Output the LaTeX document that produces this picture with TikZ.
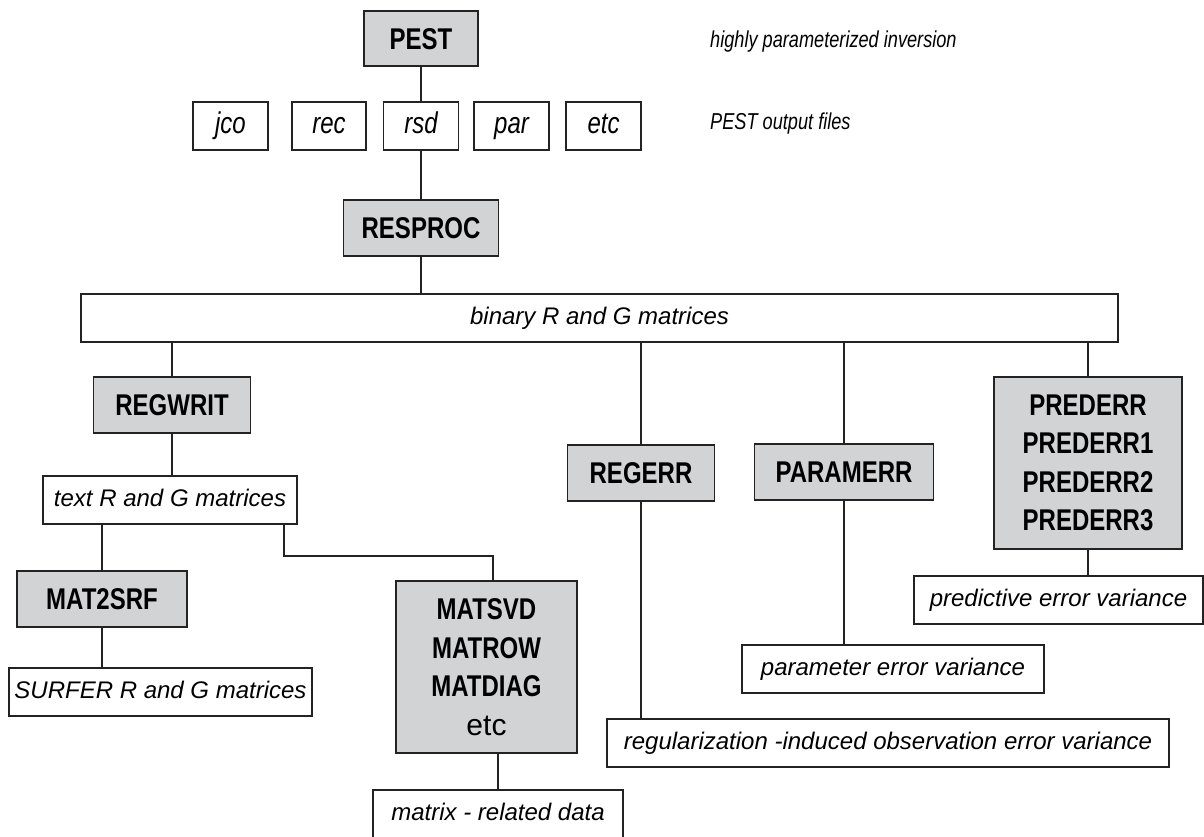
\documentclass[tikz,border=0pt]{standalone}
\usepackage{fontspec}
\setmainfont{Liberation Sans}
\newfontfamily\cnfont{Liberation Sans}[FakeStretch=0.8]
\newfontfamily\filefont{Liberation Sans}[FakeStretch=0.8]
\newfontfamily\notefont{Liberation Sans}[FakeStretch=0.79]
\definecolor{boxgray}{RGB}{210,211,213}
\definecolor{edgec}{RGB}{35,35,35}
\begin{document}
\begin{tikzpicture}[x=1pt,y=-1pt,
  base/.style={draw=edgec,line width=1.8pt,inner sep=0pt,align=center,anchor=center},
  gboxm/.style={base,fill=boxgray,font=\cnfont\bfseries\fontsize{30}{38.5}\selectfont},
  gbox/.style={gboxm,text height=21pt,text depth=0pt},
  wbox/.style={base,fill=white,font=\itshape\fontsize{24}{28}\selectfont,text height=17pt,text depth=5pt},
  fbox/.style={base,fill=white,font=\filefont\itshape\fontsize{30}{32}\selectfont,minimum width=75pt,minimum height=48pt,text height=21pt,text depth=6pt},
  note/.style={inner sep=0pt,anchor=west,font=\notefont\itshape\fontsize{23}{26}\selectfont,text height=16pt,text depth=5pt},
  conn/.style={draw=edgec,line width=1.8pt}]
\useasboundingbox (0,0) rectangle (1204,836);
% nodes
\node[gbox,minimum width=114pt,minimum height=55pt] (pest) at (421,38.5) {PEST};
\node[fbox] (jco) at (230.5,126) {jco};
\node[fbox,minimum width=74pt] (rec) at (329,126) {rec};
\node[fbox] (rsd) at (421,126) {rsd};
\node[fbox] (par) at (511.5,126) {par};
\node[fbox] (etcf) at (603.5,126) {etc};
\node[note] (n1) at (710,42) {highly parameterized inversion};
\node[note] (n2) at (710,124) {PEST output files};
\node[gbox,minimum width=155pt,minimum height=56pt] (resproc) at (421,228) {RESPROC};
\node[wbox,minimum width=1037pt,minimum height=48pt] (binary) at (599.5,318) {binary R and G matrices};
\node[gbox,minimum width=157pt,minimum height=56pt] (regwrit) at (172,405) {REGWRIT};
\node[wbox,minimum width=254pt,minimum height=48pt] (textR) at (170,500) {text R and G matrices};
\node[gbox,minimum width=170pt,minimum height=56pt] (mat2srf) at (102,599) {MAT2SRF};
\node[wbox,minimum width=303pt,minimum height=48pt] (surfer) at (160.5,692) {SURFER R and G matrices};
\node[gboxm,minimum width=181pt,minimum height=172pt] (matsvd) at (486.5,667) {MATSVD\\MATROW\\MATDIAG\\{\mdseries\fontspec{Liberation Sans}etc}};
\node[wbox,minimum width=250pt,minimum height=48pt] (matrix) at (498,814) {matrix - related data};
\node[gbox,minimum width=147pt,minimum height=56pt] (regerr) at (641,473) {REGERR};
\node[wbox,minimum width=562pt,minimum height=48pt] (regul) at (888,743) {regularization -induced observation error variance};
\node[gbox,minimum width=179pt,minimum height=56pt] (paramerr) at (844,472) {PARAMERR};
\node[wbox,minimum width=302pt,minimum height=48pt] (param) at (893,669) {parameter error variance};
\node[gboxm,minimum width=188pt,minimum height=172pt] (prederr) at (1088,463) {PREDERR\\PREDERR1\\PREDERR2\\PREDERR3};
\node[wbox,minimum width=289pt,minimum height=48pt] (predict) at (1058.5,600) {predictive error variance};
% connectors
\draw[conn] (rsd.north) -- (rsd.north |- pest.south);
\draw[conn] (rsd.south) -- (rsd.south |- resproc.north);
\draw[conn] (resproc.south) -- (resproc.south |- binary.north);
\draw[conn] (regwrit.north) -- (regwrit.north |- binary.south);
\draw[conn] (regwrit.south) -- (regwrit.south |- textR.north);
\draw[conn] (mat2srf.north) -- (mat2srf.north |- textR.south);
\draw[conn] (mat2srf.south) -- (mat2srf.south |- surfer.north);
\draw[conn] ([xshift=114pt]textR.south) |- ++(0,31) -| ([xshift=6.5pt]matsvd.north);
\draw[conn] ([xshift=11.5pt]matsvd.south) -- ([xshift=11.5pt]matsvd.south |- matrix.north);
\draw[conn] (regerr.north) -- (regerr.north |- binary.south);
\draw[conn] (regerr.south) -- (regerr.south |- regul.north);
\draw[conn] (paramerr.north) -- (paramerr.north |- binary.south);
\draw[conn] (paramerr.south) -- (paramerr.south |- param.north);
\draw[conn] (prederr.north) -- (prederr.north |- binary.south);
\draw[conn] (prederr.south) -- (prederr.south |- predict.north);
\end{tikzpicture}
\end{document}
